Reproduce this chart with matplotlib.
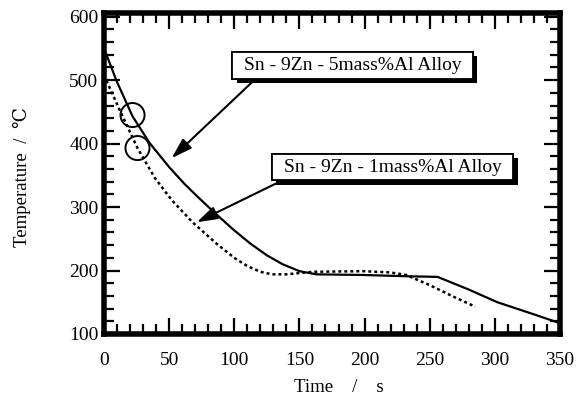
import matplotlib
matplotlib.use('Agg')
import matplotlib.pyplot as plt
import matplotlib.patheffects as pe
import numpy as np

plt.rcParams['font.family'] = ['Liberation Serif', 'DejaVu Serif']

# cooling curves (time in s, temperature in degC)
al5_time = [0, 10, 21.9, 35, 50, 62, 73, 86, 99, 112, 125, 137, 150, 163, 199, 232, 256, 280, 302, 327, 350]
al5_temp = [550, 497, 443, 401, 363, 336, 314, 289, 265, 243, 224, 210, 199, 194, 193, 191, 190, 170, 150, 133, 117]

al1_time = [0, 12, 25.7, 39, 52, 68, 86, 100, 110, 120, 129, 140, 150, 160, 199, 220, 232, 250, 268, 285]
al1_temp = [508, 453, 393, 346, 311, 276, 243, 220, 207, 198, 194, 194, 196, 198, 199, 197, 193, 177, 159, 143]

# circled points on the curves
circle_time = [21.9, 25.7]
circle_temp = [445, 393]

labels = ['Sn - 9Zn - 5mass%Al Alloy', 'Sn - 9Zn - 1mass%Al Alloy']
x_ticks = [0, 50, 100, 150, 200, 250, 300, 350]
y_ticks = [100, 200, 300, 400, 500, 600]

fig = plt.figure(figsize=(5.78, 3.99), dpi=100)
ax = fig.add_axes([104/578, 1-334/399, 456/578, 320.5/399])

ax.plot(al5_time, al5_temp, '-', color='k', lw=1.6)
ax.plot(al1_time, al1_temp, color='k', lw=1.8, linestyle=(0, (1.2, 1.2)))
ax.scatter(circle_time, circle_temp, s=300, facecolors='none', edgecolors='k', linewidths=1.4, zorder=3)

ax.set_xlim(0, 350)
ax.set_ylim(100, 605)
ax.set_xticks(x_ticks)
ax.set_yticks(y_ticks)
ax.set_xticks(np.arange(0, 351, 10), minor=True)
ax.set_yticks(np.arange(100, 601, 20), minor=True)
ax.tick_params(which='both', direction='in', top=True, right=True, width=1.6, colors='k')
ax.tick_params(which='major', length=11.5)
ax.tick_params(which='minor', length=7)
ax.tick_params(axis='x', which='major', pad=13, labelsize=14)
ax.tick_params(axis='y', which='major', pad=4, labelsize=14)
for sp in ax.spines.values():
    sp.set_linewidth(4)

ax.set_xlabel('Time    /    s', fontsize=13.5)
ax.xaxis.set_label_coords((339-104)/456, -0.14)
ax.set_ylabel('Temperature  /  \u2103', fontsize=13.5)
ax.yaxis.set_label_coords(-0.16, 0.49)

box = dict(boxstyle='square,pad=0.6', fc='white', ec='k', lw=1.3)
shadow = [pe.withSimplePatchShadow(offset=(3, -3), shadow_rgbFace='k', alpha=1.0), pe.Normal()]
arrow = dict(arrowstyle='-|>,head_length=0.7,head_width=0.22', color='k', lw=1.5,
             mutation_scale=18, shrinkA=0, shrinkB=0)

t1 = ax.annotate(labels[0], xy=(51.9, 377), xytext=(191, 523.6), fontsize=14,
                 ha='center', va='center', bbox=box,
                 arrowprops=dict(arrow, relpos=(0.07, -0.1)))
t2 = ax.annotate(labels[1], xy=(71.1, 276), xytext=(221.7, 363), fontsize=14,
                 ha='center', va='center', bbox=box,
                 arrowprops=dict(arrow, relpos=(0.03, -0.05)))
for t in (t1, t2):
    p = t.get_bbox_patch()
    p.set_mutation_aspect(0.42)
    p.set_path_effects(shadow)

fig.savefig('out.png', dpi=100)
